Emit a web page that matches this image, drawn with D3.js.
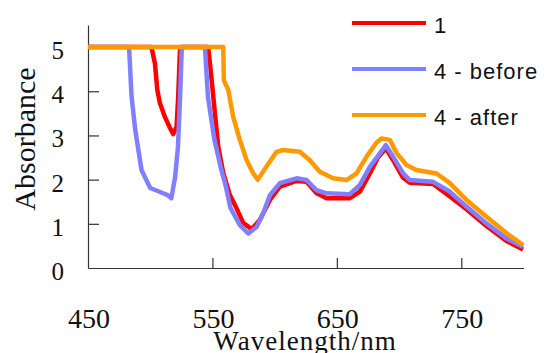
<!DOCTYPE html>
<html>
<head>
<meta charset="utf-8">
<script src="https://cdn.jsdelivr.net/npm/d3@7"></script>
<style>
body { margin: 0; background: #fff; }
svg { display: block; }
</style>
</head>
<body>
<div id="wrap"></div>
<script>

// wavelength (nm) / absorbance
var wl1 = [450, 501, 503.8, 505.7, 507.8, 511.8, 515.9, 518.5, 521.2, 522.5, 523.9, 524.5, 546.6, 549.4, 552, 554.7, 558.7, 564, 569.4, 574.7, 581.5, 588.2, 596.2, 604.2, 617.6, 625.7, 633.7, 641.7, 660.4, 668.5, 676.5, 683, 689.4, 695, 703, 708.6, 727.3, 740.8, 754.2, 770.2, 786.3, 799.6];
var abs1 = [5, 5, 4.63, 4.03, 3.73, 3.42, 3.17, 3.03, 3.2, 3.88, 4.93, 5, 5, 4.25, 3.5, 2.74, 2.15, 1.65, 1.35, 1.02, 0.88, 1.09, 1.54, 1.84, 1.97, 1.95, 1.69, 1.58, 1.58, 1.73, 2.14, 2.5, 2.71, 2.45, 2.05, 1.93, 1.9, 1.62, 1.33, 0.95, 0.61, 0.42];

var wlBefore = [450, 483, 485, 488, 493, 500, 508, 514, 517, 520, 522.3, 524, 525.3, 526, 544, 546.4, 551.6, 557.2, 560.8, 564.5, 572.1, 578.8, 585.5, 590.8, 596.2, 604.2, 617.6, 625.7, 633.7, 641.7, 660.4, 668.5, 676.5, 689.4, 695.2, 703.3, 708.6, 727.3, 740.8, 754.2, 770.2, 786.3, 799.6];
var absBefore = [5, 5, 3.88, 3.12, 2.22, 1.81, 1.72, 1.65, 1.58, 2.06, 2.74, 3.87, 4.93, 5, 5, 3.87, 2.9, 2.22, 1.84, 1.36, 0.97, 0.78, 0.93, 1.24, 1.65, 1.92, 2.03, 1.99, 1.76, 1.69, 1.67, 1.88, 2.29, 2.78, 2.52, 2.14, 1.99, 1.95, 1.73, 1.39, 1.01, 0.67, 0.48];

var wlAfter = [450, 558.7, 559.2, 562.7, 566.7, 572, 577.5, 582.8, 586.5, 593.5, 598.8, 601.6, 606.9, 620.3, 628.3, 636.3, 647, 657.8, 665.8, 673.9, 681.9, 685.9, 692.6, 698, 706, 714, 730.1, 740.8, 754.2, 770.2, 786.3, 799.6];
var absAfter = [5, 5, 4.25, 4.03, 3.42, 2.9, 2.44, 2.14, 2.0, 2.3, 2.52, 2.63, 2.67, 2.63, 2.44, 2.18, 2.03, 1.99, 2.14, 2.52, 2.84, 2.93, 2.9, 2.6, 2.33, 2.22, 2.14, 1.92, 1.54, 1.16, 0.79, 0.52];

var seriesNames = ["1", "4 - before", "4 - after"];
var seriesColors = ["#ff0000", "#8080ff", "#ff9900"];

var xTicks = [450, 550, 650, 750];
var yTicks = [0, 1, 2, 3, 4, 5];


var W = 544, H = 353;
var svg = d3.select("#wrap").append("svg")
    .attr("width", W)
    .attr("height", H);

var x = d3.scaleLinear().domain([450, 800]).range([88, 523.5]);
var y = d3.scaleLinear().domain([0, 5.5]).range([268, 25]);

// axes: ticks point inward, labels placed by hand further out
var xAxis = svg.append("g")
    .attr("transform", "translate(0," + y(0) + ")")
    .call(d3.axisTop(x).tickValues([550, 650, 750]).tickSize(10).tickSizeOuter(0).tickFormat(""));
var yAxis = svg.append("g")
    .attr("transform", "translate(" + x(450) + ",0)")
    .call(d3.axisRight(y).tickValues([1, 2, 3, 4, 5]).tickSize(11).tickSizeOuter(0).tickFormat(""));

svg.selectAll(".domain, .tick line")
    .attr("stroke", "#333")
    .attr("stroke-width", 1.2);

svg.selectAll(".xlab")
    .data(xTicks)
    .enter()
    .append("text")
    .attr("class", "xlab")
    .attr("x", function(d) { return x(d) + 1; })
    .attr("y", 328)
    .attr("text-anchor", "middle")
    .attr("font-family", "Liberation Serif")
    .attr("font-size", 28)
    .attr("fill", "#111")
    .text(function(d) { return d; });

svg.selectAll(".ylab")
    .data(yTicks)
    .enter()
    .append("text")
    .attr("class", "ylab")
    .attr("x", 64)
    .attr("y", function(d) { return y(d) + 12; })
    .attr("text-anchor", "end")
    .attr("font-family", "Liberation Serif")
    .attr("font-size", 25)
    .attr("fill", "#111")
    .text(function(d) { return d; });

svg.append("text")
    .attr("transform", "translate(35,139) rotate(-90)")
    .attr("text-anchor", "middle")
    .attr("font-family", "Liberation Serif")
    .attr("font-size", 30)
    .attr("fill", "#111")
    .text("Absorbance");

svg.append("text")
    .attr("x", 305)
    .attr("y", 350)
    .attr("text-anchor", "middle")
    .attr("font-family", "Liberation Serif")
    .attr("font-size", 27)
    .attr("letter-spacing", 1)
    .attr("fill", "#111")
    .text("Wavelength/nm");


// curves
var wls = [wl1, wlBefore, wlAfter];
var absv = [abs1, absBefore, absAfter];

var line = d3.line()
    .x(function(d) { return x(d[0]); })
    .y(function(d) { return y(d[1]); });

for (var si = 0; si < wls.length; si++) {

    var pts = wls[si].map(function(w, i) { return [w, absv[si][i]]; });

    svg.append("path")
        .datum(pts)
        .attr("d", line)
        .attr("fill", "none")
        .attr("stroke", seriesColors[si])
        .attr("stroke-width", 4.5)
        .attr("stroke-linejoin", "round");

}


// legend
var legend = svg.append("g");
for (var li = 0; li < seriesNames.length; li++) {

    legend.append("line")
        .attr("x1", 352).attr("x2", 426)
        .attr("y1", 23 + li * 46).attr("y2", 23 + li * 46)
        .attr("stroke", seriesColors[li])
        .attr("stroke-width", 4);

    legend.append("text")
        .attr("x", 434)
        .attr("y", 33 + li * 46)
        .attr("font-family", "Liberation Sans")
        .attr("font-size", 22)
        .attr("letter-spacing", 1)
        .attr("fill", "#111")
        .text(seriesNames[li]);

}

</script>
</body>
</html>
